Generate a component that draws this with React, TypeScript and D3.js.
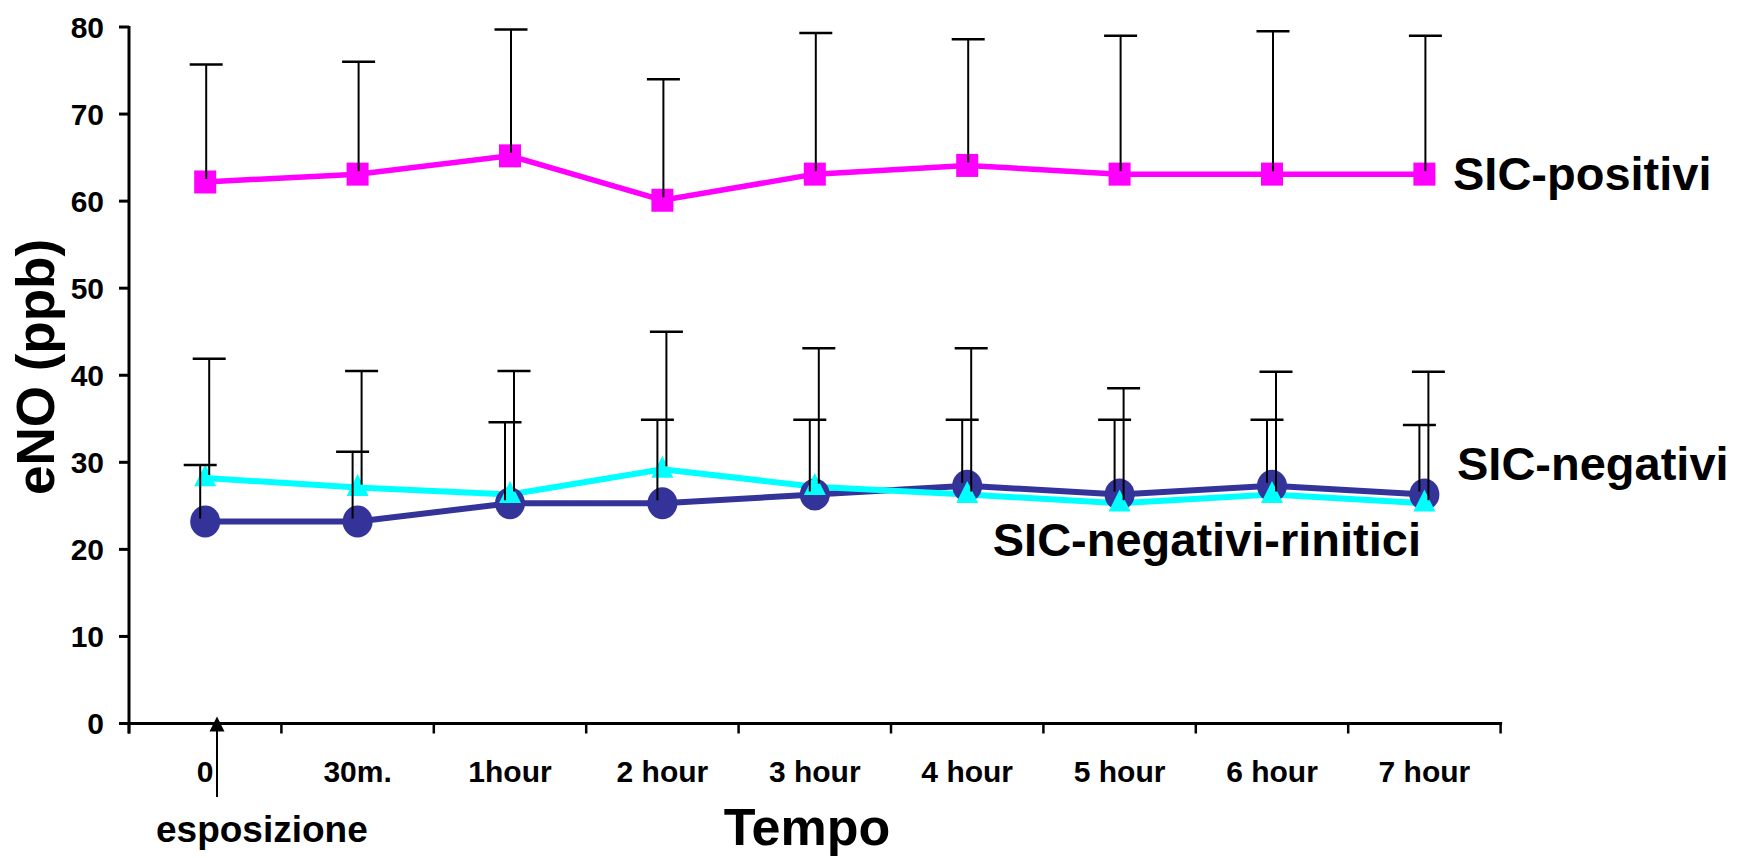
import React from "react";
import * as d3 from "d3";

const categories = ["0", "30m.", "1hour", "2 hour", "3 hour", "4 hour", "5 hour", "6 hour", "7 hour"];
const yTicks = [0, 10, 20, 30, 40, 50, 60, 70, 80];

// SIC-positivi (magenta squares)
const positiviMean = [62.2, 63.1, 65.2, 60.1, 63.1, 64.1, 63.1, 63.1, 63.1];
const positiviUpper = [75.7, 76.0, 79.7, 74.0, 79.3, 78.6, 79.0, 79.5, 79.0];
// dark blue circles
const circleMean = [23.2, 23.2, 25.3, 25.3, 26.3, 27.3, 26.3, 27.3, 26.3];
const circleUpper = [29.7, 31.2, 34.6, 34.9, 34.9, 34.9, 34.9, 34.9, 34.3];
// cyan triangles
const triMean = [28.2, 27.1, 26.3, 29.2, 27.2, 26.3, 25.3, 26.3, 25.3];
const triUpper = [41.9, 40.5, 40.5, 45.0, 43.1, 43.1, 38.5, 40.4, 40.4];

const FONT = "'Liberation Sans', Arial, Helvetica, sans-serif";

export default function App() {
  const W = 1737, H = 858;
  const x0 = 129, x1 = 1500.6, yTop = 27, yBot = 723.5;
  const x = d3.scaleBand<string>().domain(categories).range([x0, x1]).padding(0);
  const y = d3.scaleLinear().domain([0, 80]).range([yBot, yTop]);
  const cx = (i: number) => (x(categories[i]) as number) + x.bandwidth() / 2;
  const line = d3.line<number>().x((_, i) => cx(i)).y((d) => y(d));
  const boundaries = categories.map((c) => x(c) as number).concat([x1]);

  const errBar = (vals: number[], upper: number[], dx: number, key: string) =>
    vals.map((v, i) => {
      const xc = cx(i) + dx;
      return (
        <g key={key + i}>
          <line x1={xc} x2={xc} y1={y(v) - 3} y2={y(upper[i])} stroke="#000" strokeWidth={2} />
          <line x1={xc - 16.5} x2={xc + 16.5} y1={y(upper[i])} y2={y(upper[i])} stroke="#000" strokeWidth={2.5} />
        </g>
      );
    });

  const tri = (xc: number, yc: number, s: number) =>
    `M${xc},${yc - s * 0.62} L${xc + s / 2},${yc + s * 0.38} L${xc - s / 2},${yc + s * 0.38} Z`;

  const arrowX = 217;

  return (
    <div style={{ position: "absolute", left: 0, top: 0 }}>
      <svg width={W} height={H} style={{ display: "block", background: "#fff" }}>
        {/* axes */}
        <line x1={x0} x2={x0} y1={yTop - 1} y2={yBot + 10} stroke="#000" strokeWidth={3} />
        <line x1={x0 - 1.5} x2={x1 + 1.5} y1={yBot} y2={yBot} stroke="#000" strokeWidth={3} />
        {yTicks.map((t) => (
          <g key={"yt" + t}>
            <line x1={x0 - 10} x2={x0} y1={y(t)} y2={y(t)} stroke="#000" strokeWidth={3} />
            <text x={104} y={y(t)} dy="0.36em" textAnchor="end" fontFamily={FONT} fontWeight="bold" fontSize={30}>
              {t}
            </text>
          </g>
        ))}
        {boundaries.map((b, i) => (
          <line key={"xt" + i} x1={b} x2={b} y1={yBot} y2={yBot + 10} stroke="#000" strokeWidth={2.5} />
        ))}
        {categories.map((c, i) => (
          <text key={"xl" + i} x={cx(i)} y={782} textAnchor="middle" fontFamily={FONT} fontWeight="bold" fontSize={30}>
            {c}
          </text>
        ))}

        {/* series lines */}
        <path d={line(positiviMean) as string} fill="none" stroke="#FF00FF" strokeWidth={5.5} />
        <path d={line(circleMean) as string} fill="none" stroke="#333399" strokeWidth={6} />
        <path d={line(triMean) as string} fill="none" stroke="#00FFFF" strokeWidth={6} />

        {/* markers */}
        {positiviMean.map((v, i) => (
          <rect key={"sq" + i} x={cx(i) - 11} y={y(v) - 11.5} width={22} height={23} fill="#FF00FF" />
        ))}
        {circleMean.map((v, i) => (
          <ellipse key={"ci" + i} cx={cx(i)} cy={y(v)} rx={15} ry={16} fill="#333399" />
        ))}
        {triMean.map((v, i) => (
          <path key={"tr" + i} d={tri(cx(i), y(v), 22)} fill="#00FFFF" />
        ))}

        {/* error bars */}
        {errBar(positiviMean, positiviUpper, 1, "ep")}
        {errBar(circleMean, circleUpper, -5, "ec")}
        {errBar(triMean, triUpper, 4, "et")}

        {/* exposure arrow */}
        <line x1={arrowX} x2={arrowX} y1={797} y2={728} stroke="#000" strokeWidth={2} />
        <path d={`M${arrowX},716.5 L${arrowX + 7.5},731.5 L${arrowX - 7.5},731.5 Z`} fill="#000" />
        <text x={156} y={842} fontFamily={FONT} fontWeight="bold" fontSize={37}>esposizione</text>

        {/* axis titles */}
        <text x={807} y={845} textAnchor="middle" fontFamily={FONT} fontWeight="bold" fontSize={52}>Tempo</text>
        <text transform="translate(54,367) rotate(-90)" textAnchor="middle" fontFamily={FONT} fontWeight="bold" fontSize={53}>
          eNO (ppb)
        </text>

        {/* series labels */}
        <text x={1453} y={190} fontFamily={FONT} fontWeight="bold" fontSize={47}>SIC-positivi</text>
        <text x={1457} y={480} fontFamily={FONT} fontWeight="bold" fontSize={47}>SIC-negativi</text>
        <text x={1421} y={556} textAnchor="end" fontFamily={FONT} fontWeight="bold" fontSize={47}>SIC-negativi-rinitici</text>
      </svg>
    </div>
  );
}
